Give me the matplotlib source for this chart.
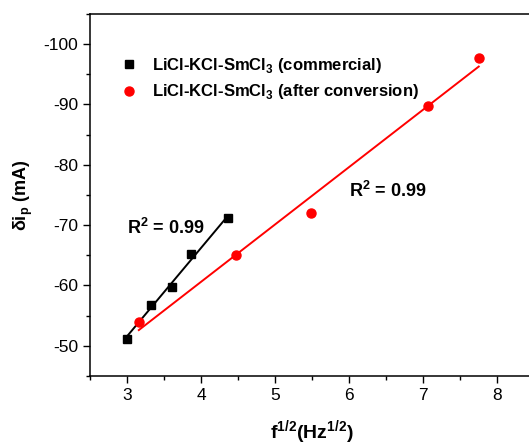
import numpy as np
import matplotlib
matplotlib.use("Agg")
import matplotlib.pyplot as plt
from matplotlib.ticker import MultipleLocator

plt.rcParams['font.family'] = ['Liberation Sans', 'DejaVu Sans']
plt.rcParams['mathtext.fontset'] = 'custom'
plt.rcParams['mathtext.rm'] = 'Liberation Sans'
plt.rcParams['mathtext.bf'] = 'Liberation Sans:bold'
plt.rcParams['axes.unicode_minus'] = False

# --- datos: raíz de la frecuencia vs. delta de corriente de pico ---
x_comercial = [3.00, 3.32, 3.61, 3.87, 4.36]
y_comercial = [-51.2, -56.8, -59.8, -65.2, -71.1]

x_conversion = [3.16, 4.47, 5.48, 7.07, 7.75]
y_conversion = [-53.9, -65.1, -72.0, -89.8, -97.6]

etiquetas = [r'LiCl-KCl-SmCl$_\mathbf{3}$ (commercial)',
             r'LiCl-KCl-SmCl$_\mathbf{3}$ (after conversion)']
r2_textos = [r'R$^\mathbf{2}$ = 0.99', r'R$^\mathbf{2}$ = 0.99']

fig = plt.figure(figsize=(5.29, 4.46), dpi=100)
ax = fig.add_axes([0.170, 0.157, 0.840, 0.812])

# puntos experimentales
ax.plot(x_comercial, y_comercial, 's', color='black', ms=6, label=etiquetas[0], zorder=3)
ax.plot(x_conversion, y_conversion, 'o', color='red', ms=6.5, label=etiquetas[1], zorder=3)

# ajustes lineales
for xs, ys, c in [(x_comercial, y_comercial, 'black'), (x_conversion, y_conversion, 'red')]:
    p = np.polyfit(xs, ys, 1)
    xx = np.array([xs[0], xs[-1]])
    ax.plot(xx, np.polyval(p, xx), '-', color=c, lw=1.4, zorder=2)

ax.text(3.0, -69.5, r2_textos[0], fontsize=13, fontweight='bold', ha='left', va='center')
ax.text(6.0, -75.6, r2_textos[1], fontsize=13, fontweight='bold', ha='left', va='center')

ax.set_xlim(2.5, 8.5)
ax.set_ylim(-45, -105)
ax.xaxis.set_major_locator(MultipleLocator(1))
ax.xaxis.set_minor_locator(MultipleLocator(0.5))
ax.yaxis.set_major_locator(MultipleLocator(10))
ax.yaxis.set_minor_locator(MultipleLocator(5))
ax.tick_params(which='major', direction='out', length=5, width=1, labelsize=12.5)
ax.tick_params(which='minor', direction='out', length=3, width=1)
for s in ax.spines.values():
    s.set_linewidth(1.1)

ax.set_ylabel(r'$\mathbf{\delta i_p}$ (mA)', fontsize=13, fontweight='bold', labelpad=6)
ax.set_xlabel(r'f$^\mathbf{1/2}$(Hz$^\mathbf{1/2}$)', fontsize=14, fontweight='bold', labelpad=11)

ax.legend(loc='upper left', bbox_to_anchor=(0.035, 0.925), frameon=False,
          prop={'weight': 'bold', 'size': 12}, handletextpad=0.9, labelspacing=0.45,
          handlelength=1.0)

fig.savefig('out.png', dpi=100)
